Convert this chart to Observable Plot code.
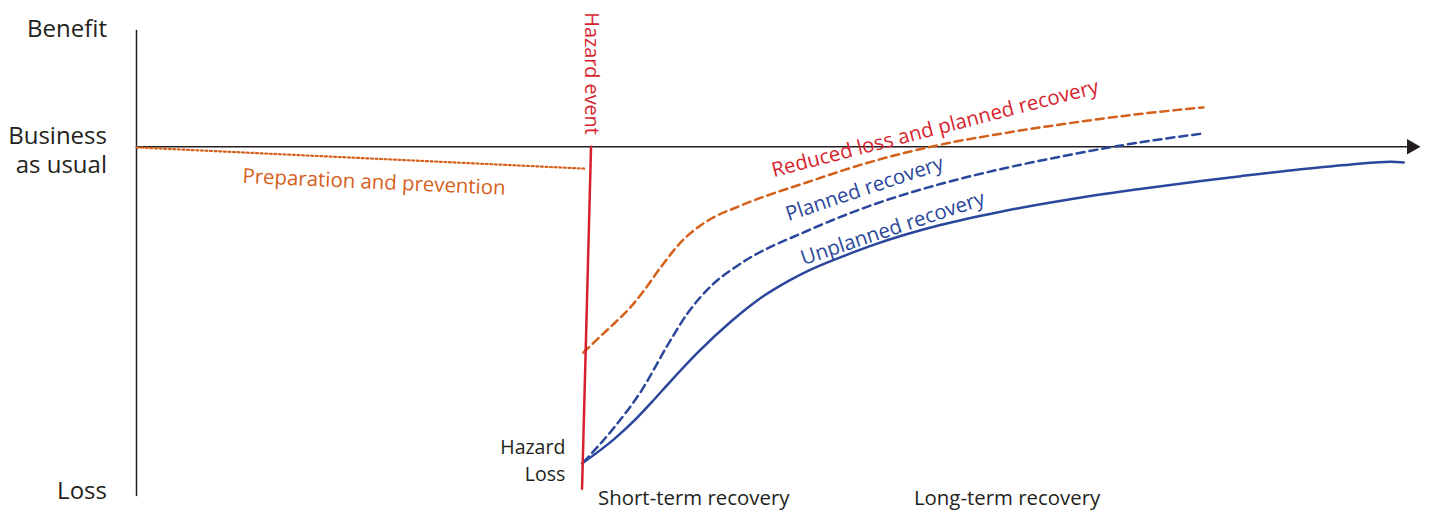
<!DOCTYPE html>
<html>
<head>
<meta charset="utf-8">
<script src="https://cdn.jsdelivr.net/npm/d3@7"></script>
<script src="https://cdn.jsdelivr.net/npm/@observablehq/plot@0.6"></script>
<style>
  html, body { margin: 0; padding: 0; background: #fff; }
  #chart svg { display: block; }
</style>
</head>
<body>
<div id="chart"></div>
<script>
// Time (x, 0..100) vs. benefit/loss relative to business as usual (y, 0 = business as usual, -100 = hazard loss)
const hazardTime = [35.4, 34.7];
const hazardLevel = [0, -100];
const preparation = [[0, -0.2], [34.9, -6.4]];
const reducedLoss = [
  [34.8, -60.2], [36.0, -55.9], [37.2, -51.7], [38.5, -46.8], [39.5, -42.2], [40.8, -35.4],
  [42.4, -27.9], [44.5, -21.6], [47.0, -17.3], [52.3, -10.3], [57.4, -4.2], [62.6, 0.6],
  [67.3, 3.8], [72.5, 6.8], [77.7, 9.4], [83.1, 11.5]
];
const planned = [
  [34.8, -92.3], [37.2, -82.1], [39.3, -71.5], [41.4, -57.8], [42.9, -48.8], [44.9, -40.2],
  [47.0, -34.3], [52.3, -24.5], [57.4, -16.9], [62.6, -10.9], [67.7, -6.2], [72.5, -2.5],
  [76.4, 0.2], [79.8, 2.2], [83.1, 3.9]
];
const unplanned = [
  [34.7, -92.6], [36.1, -88.8], [37.2, -85.5], [38.9, -79.6], [40.3, -74.0], [41.4, -69.4],
  [43.7, -60.2], [46.3, -51.1], [48.4, -44.8], [50.9, -39.0], [52.3, -36.3], [55.6, -31.2],
  [57.4, -28.7], [62.6, -22.9], [67.3, -19.0], [72.5, -15.5], [77.7, -12.6], [82.9, -10.0],
  [86.0, -8.6], [90.7, -6.6], [94.6, -5.2], [97.7, -4.4], [98.7, -4.6]
];
const axisY = [[0, -102], [0, 34]];
const axisX = [[0, 0], [99.3, 0]];
const arrowTip = [[99.3, 0]];

// Text labels
const levelLabels = ["Benefit", "Business\nas usual", "Loss"];
const levelLabelY = [34.6, -0.8, -100.5];
const phaseLabels = ["Short-term recovery", "Long-term recovery"];
const phaseLabelX = [43.4, 67.8];
const curveLabels = ["Reduced loss and planned recovery", "Planned recovery", "Unplanned recovery", "Preparation and prevention"];
const curveLabelX = [62.2, 56.7, 58.9, 18.5];
const curveLabelY = [5.3, -12.3, -23.9, -10.4];
const curveLabelAngle = [-14.5, -18.5, -18.5, 2.6];
const curveLabelColor = ["#d71f2e", "#2a479b", "#2a479b", "#d4601c"];

const RED = "#d71f2e", ORANGE = "#d4601c", BLUE = "#2a479b", INK = "#231f20";
const FONT = "'Open Sans', sans-serif";

const hazardLine = hazardTime.map((t, i) => [t, hazardLevel[i]]);
const levelData = levelLabels.map((t, i) => ({t, y: levelLabelY[i]}));
const phaseData = phaseLabels.map((t, i) => ({t, x: phaseLabelX[i]}));
const curveData = curveLabels.map((t, i) => ({t, x: curveLabelX[i], y: curveLabelY[i], a: curveLabelAngle[i], c: curveLabelColor[i]}));

const chart = Plot.plot({
  width: 1432,
  height: 515,
  marginLeft: 136,
  marginRight: 12,
  marginTop: 30,
  marginBottom: 20,
  x: {domain: [0, 100], axis: null},
  y: {domain: [-102, 34], axis: null},
  style: {fontFamily: FONT, overflow: "visible", background: "#fff"},
  marks: [
    Plot.line(axisY, {stroke: INK, strokeWidth: 1.5}),
    Plot.line(axisX, {stroke: INK, strokeWidth: 1.5}),
    Plot.dot(arrowTip, {symbol: "triangle", r: 5.8, rotate: 90, fill: INK, stroke: null}),
    Plot.line(preparation, {stroke: ORANGE, strokeWidth: 2.2, strokeDasharray: "2,2.6"}),
    Plot.line(reducedLoss, {stroke: ORANGE, strokeWidth: 2.5, strokeDasharray: "8,5", curve: "monotone-x"}),
    Plot.line(planned, {stroke: BLUE, strokeWidth: 2.5, strokeDasharray: "8,5", curve: "monotone-x"}),
    Plot.line(unplanned, {stroke: BLUE, strokeWidth: 2.5, curve: "monotone-x"}),
    Plot.line(hazardLine, {stroke: RED, strokeWidth: 2.5}),
    Plot.text(["Hazard event"], {x: hazardTime[0], y: 21.4, rotate: 90, fill: RED, fontSize: 19.8}),
    Plot.text(["Hazard\nLoss"], {x: 33.4, y: -91.3, textAnchor: "end", fill: INK, fontSize: 19.5, lineHeight: 1.38}),
    Plot.text(levelData, {x: -2.3, y: "y", text: "t", textAnchor: "end", fill: INK, fontSize: 24, lineHeight: 1.17}),
    Plot.text(phaseData, {x: "x", y: -102.9, text: "t", fill: INK, fontSize: 20.4}),
    Plot.text(curveData, {x: "x", y: "y", text: "t", rotate: "a", fill: "c", fontSize: 20.4})
  ]
});
document.getElementById("chart").appendChild(chart);
</script>
</body>
</html>
